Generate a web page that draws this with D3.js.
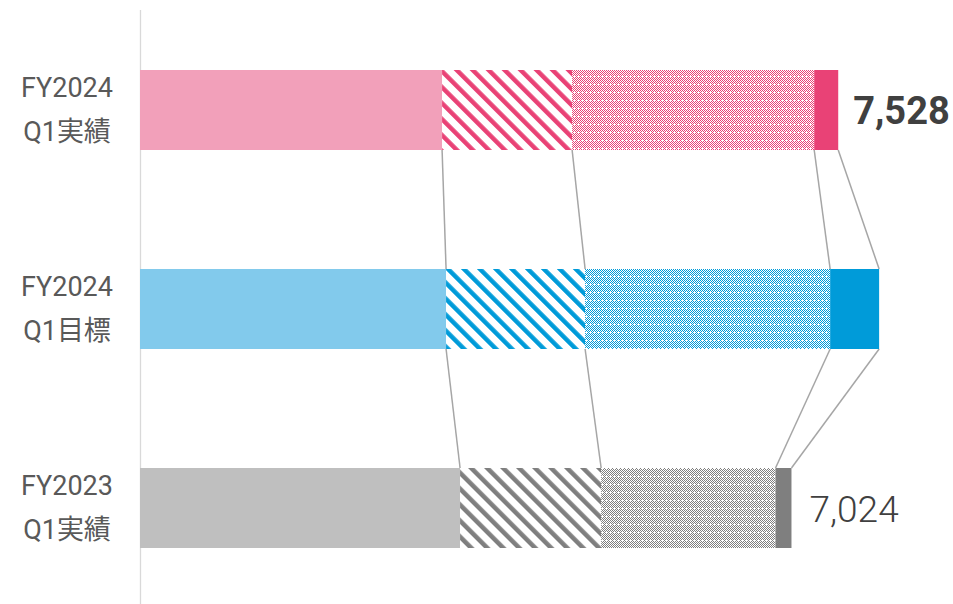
<!DOCTYPE html>
<html>
<head>
<meta charset="utf-8">
<script src="https://cdn.jsdelivr.net/npm/d3@7"></script>
<style>
  html, body { margin: 0; padding: 0; background: #fff; }
  svg { display: block; }
</style>
</head>
<body>
<div id="chart"></div>
<script>
const categories = ["FY2024|Q1実績", "FY2024|Q1目標", "FY2023|Q1実績"];
const seg1 = [3257, 3300, 3451];
const seg2 = [1402, 1499, 1521];
const seg3 = [2610, 2642, 1880];
const seg4 = [259, 528, 172];
const valueLabels = ["7,528", "", "7,024"];

const lightColors = ["#F2A0BA", "#82CAEC", "#BFBFBF"];
const darkColors = ["#E94276", "#009BD9", "#7F7F7F"];

const W = 953, H = 604;
const BAR_H = 80;

const svg = d3.select("#chart").append("svg")
  .attr("width", W).attr("height", H);

const defs = svg.append("defs");

// stripe + dot patterns per row
darkColors.forEach((c, i) => {
  const st = defs.append("pattern")
    .attr("id", "stripe" + i)
    .attr("patternUnits", "userSpaceOnUse")
    .attr("width", 11.3).attr("height", 11.3)
    .attr("patternTransform", "rotate(-45)");
  st.append("rect").attr("width", 11.3).attr("height", 11.3).attr("fill", "#fff");
  st.append("rect").attr("width", 4.5).attr("height", 11.3).attr("fill", c);

  const dp = defs.append("pattern")
    .attr("id", "dots" + i)
    .attr("patternUnits", "userSpaceOnUse")
    .attr("width", 8).attr("height", 8);
  dp.append("rect").attr("width", 8).attr("height", 8).attr("fill", "#fff");
  // checkerboard with a small white cross in each cell
  const white = new Set(["2,4", "6,4"]);
  for (let y = 0; y < 8; y++) {
    for (let x = 0; x < 8; x++) {
      if ((x + y) % 2 === 0 && !white.has(x + "," + y)) {
        dp.append("rect").attr("x", x).attr("y", y)
          .attr("width", 1).attr("height", 1).attr("fill", c);
      }
    }
  }
});

const x = d3.scaleLinear().domain([0, 8000]).range([140, 882]);
const y = d3.scalePoint().domain(categories).range([110, 508]);

// axis line
svg.append("line")
  .attr("x1", 140.5).attr("x2", 140.5)
  .attr("y1", 10).attr("y2", H)
  .attr("stroke", "#D9D9D9").attr("stroke-width", 1.3);

const rows = categories.map((c, i) => {
  const vals = [seg1[i], seg2[i], seg3[i], seg4[i]];
  let acc = 0;
  const segs = vals.map(v => { const s = { x0: acc, x1: acc + v }; acc += v; return s; });
  return { cat: c, i, segs, total: acc };
});

// connector lines
for (let r = 0; r < rows.length - 1; r++) {
  const a = rows[r], b = rows[r + 1];
  for (let k = 0; k < 4; k++) {
    svg.append("line")
      .attr("x1", x(a.segs[k].x1)).attr("y1", y(a.cat) + BAR_H / 2)
      .attr("x2", x(b.segs[k].x1)).attr("y2", y(b.cat) - BAR_H / 2)
      .attr("stroke", "#A6A6A6").attr("stroke-width", 1.5);
  }
}

const fills = i => [lightColors[i], "url(#stripe" + i + ")", "url(#dots" + i + ")", darkColors[i]];

rows.forEach(row => {
  const g = svg.append("g");
  g.selectAll("rect").data(row.segs).enter().append("rect")
    .attr("x", d => x(d.x0))
    .attr("y", y(row.cat) - BAR_H / 2)
    .attr("width", d => x(d.x1) - x(d.x0))
    .attr("height", BAR_H)
    .attr("fill", (d, k) => fills(row.i)[k]);

  const lines = row.cat.split("|");
  lines.forEach((t, j) => {
    svg.append("text")
      .attr("x", 67)
      .attr("y", y(row.cat) + (j === 0 ? -22 : 22))
      .attr("text-anchor", "middle")
      .attr("dominant-baseline", "central")
      .attr("font-family", "Roboto, 'Noto Sans CJK JP', sans-serif")
      .attr("font-size", 27)
      .attr("fill", "#595959")
      .text(t);
  });

  if (valueLabels[row.i]) {
    svg.append("text")
      .attr("x", x(row.total) + (row.i === 0 ? 15 : 18))
      .attr("y", y(row.cat) + 1)
      .attr("dominant-baseline", "central")
      .attr("font-family", "Roboto, sans-serif")
      .attr("font-weight", row.i === 0 ? "bold" : 300)
      .attr("font-size", row.i === 0 ? 38 : 37)
      .attr("fill", "#404040")
      .text(valueLabels[row.i]);
  }
});
</script>
</body>
</html>
